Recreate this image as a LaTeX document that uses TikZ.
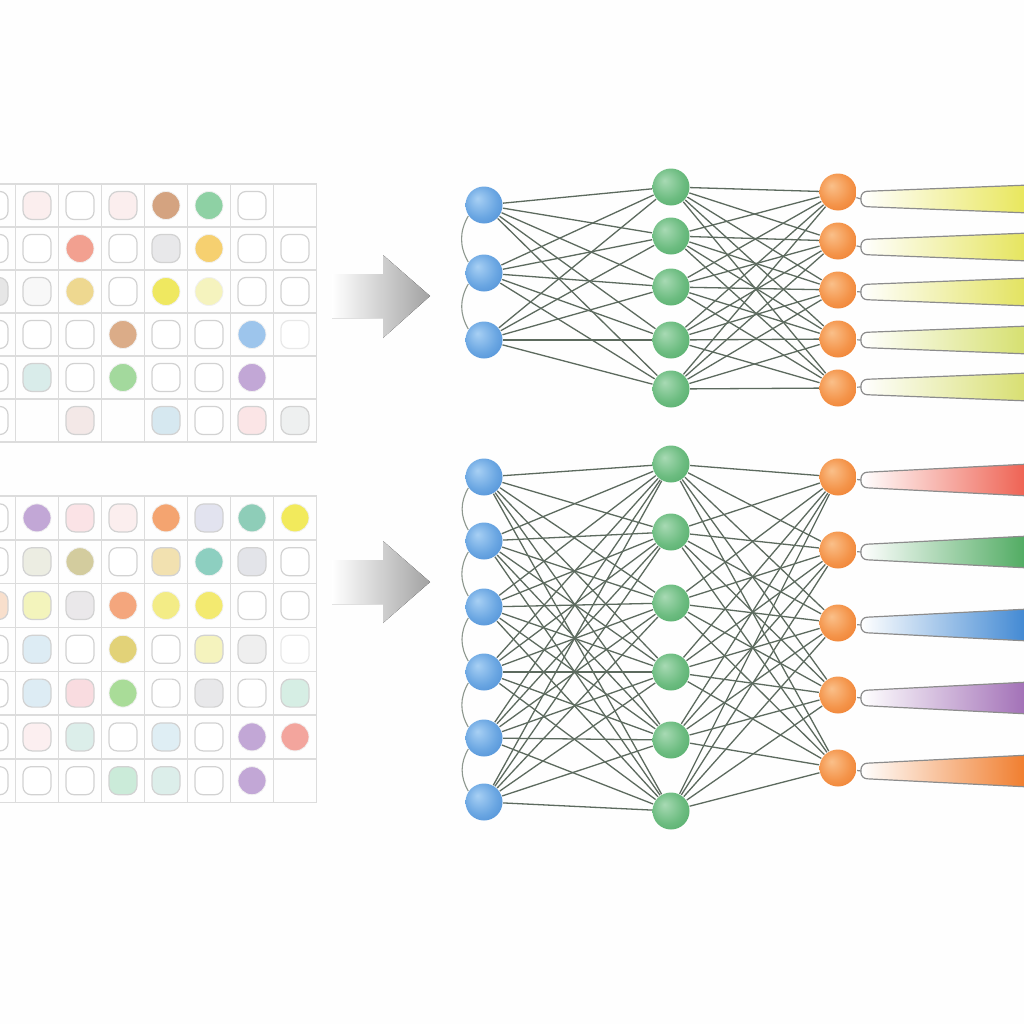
\documentclass[tikz,border=0pt]{standalone}
\usepackage{tikz, xcolor}
\newcommand{\unitsize}{0.01cm}

\definecolor{gridgray}{HTML}{DCDCDC}
\definecolor{cellline}{HTML}{D2D2D2}
\definecolor{linkgray}{HTML}{5C6A5E}
\definecolor{beamline}{HTML}{8C8C8C}
\definecolor{arrowgray}{HTML}{A2A2A2}
% cell colours
\definecolor{pinkA}{HTML}{FBEEEE}
\definecolor{pinkB}{HTML}{FBE3E6}
\definecolor{pinkC}{HTML}{F9DCE0}
\definecolor{pinkD}{HTML}{FCEFF0}
\definecolor{pinkGrey}{HTML}{F3E8E7}
\definecolor{pinkPale}{HTML}{FBE5E6}
\definecolor{greyA}{HTML}{E8E8EA}
\definecolor{greyB}{HTML}{F8F8F8}
\definecolor{greyC}{HTML}{EEF0F0}
\definecolor{greyD}{HTML}{E6E6E6}
\definecolor{greyE}{HTML}{E3E4E9}
\definecolor{greyF}{HTML}{EAE8EA}
\definecolor{greyG}{HTML}{EFEFEF}
\definecolor{tanDot}{HTML}{D4A380}
\definecolor{brownDot}{HTML}{DBAC88}
\definecolor{mintDot}{HTML}{8ED1A4}
\definecolor{salmonDot}{HTML}{F2A090}
\definecolor{salmonB}{HTML}{F3A59D}
\definecolor{goldDot}{HTML}{F6D070}
\definecolor{mustardA}{HTML}{EED890}
\definecolor{mustardDot}{HTML}{E2D278}
\definecolor{yellowDot}{HTML}{EFE860}
\definecolor{yellowB}{HTML}{F2EA5C}
\definecolor{yellowC}{HTML}{F3EC86}
\definecolor{yellowD}{HTML}{F3EA70}
\definecolor{yellowPale}{HTML}{F5F3BE}
\definecolor{yellowPaleB}{HTML}{F3F4BC}
\definecolor{blueDot}{HTML}{9DC5EC}
\definecolor{bluePale}{HTML}{D6E8F0}
\definecolor{bluePaleB}{HTML}{DDECF4}
\definecolor{bluePaleC}{HTML}{DFEEF4}
\definecolor{tealPale}{HTML}{D9ECEA}
\definecolor{tealDot}{HTML}{8ECDB8}
\definecolor{tealDotB}{HTML}{8DCFC0}
\definecolor{greenDot}{HTML}{A3D99D}
\definecolor{greenDotB}{HTML}{A9DC98}
\definecolor{purpleDot}{HTML}{C2A7D6}
\definecolor{lavender}{HTML}{E2E3EF}
\definecolor{orangeDot}{HTML}{F4A470}
\definecolor{orangeDotB}{HTML}{F4A67D}
\definecolor{beige}{HTML}{ECEDE2}
\definecolor{khaki}{HTML}{D3CC9E}
\definecolor{tanPale}{HTML}{F2E1B0}
\definecolor{peach}{HTML}{F8DFCC}
\definecolor{mintPale}{HTML}{D6EEE4}
\definecolor{mintPaleB}{HTML}{DCEEEA}
\definecolor{mintB}{HTML}{CBEBD9}
% neuron colours
\definecolor{nblueL}{HTML}{A8D0F4}
\definecolor{nblueM}{HTML}{6AA6E2}
\definecolor{nblueD}{HTML}{3E82CF}
\definecolor{ngreenL}{HTML}{A8DAB4}
\definecolor{ngreenM}{HTML}{6CBC80}
\definecolor{ngreenD}{HTML}{47A45F}
\definecolor{norangeL}{HTML}{FAC08A}
\definecolor{norangeM}{HTML}{F4944A}
\definecolor{norangeD}{HTML}{EC7220}
% beam colours
\definecolor{beamYellowA}{HTML}{E8E658}
\definecolor{beamYellowB}{HTML}{E5E45A}
\definecolor{beamYellowC}{HTML}{E2E25C}
\definecolor{beamYellowD}{HTML}{D5DF6C}
\definecolor{beamYellowE}{HTML}{D7DE6E}
\definecolor{beamRed}{HTML}{EE5E4E}
\definecolor{beamGreen}{HTML}{4CA95E}
\definecolor{beamBlue}{HTML}{3D86D2}
\definecolor{beamPurple}{HTML}{A06DB5}
\definecolor{beamOrange}{HTML}{F07A28}

\pgfdeclareradialshading{blueball}{\pgfpoint{-9bp}{9bp}}{color(0bp)=(nblueL); color(22bp)=(nblueM); color(44bp)=(nblueD); color(50bp)=(nblueD)}
\pgfdeclareradialshading{greenball}{\pgfpoint{-9bp}{9bp}}{color(0bp)=(ngreenL); color(22bp)=(ngreenM); color(44bp)=(ngreenD); color(50bp)=(ngreenD)}
\pgfdeclareradialshading{orangeball}{\pgfpoint{-9bp}{9bp}}{color(0bp)=(norangeL); color(22bp)=(norangeM); color(44bp)=(norangeD); color(50bp)=(norangeD)}

\begin{document}
\begin{tikzpicture}
\useasboundingbox (0,0) rectangle (1024*\unitsize,-1024*\unitsize);
\clip (0,0) rectangle (1024*\unitsize,-1024*\unitsize);
\fill[white!99.5!black] (0,0) rectangle (1024*\unitsize,-1024*\unitsize);
\tikzstyle{every node}=[inner sep=0pt,
			minimum size = 28*\unitsize
			]
\tikzstyle{blankcell}=[rectangle, draw=cellline, fill=white, rounded corners=8*\unitsize, line width=1.2*\unitsize]
\tikzstyle{softcell}=[rectangle, draw=cellline, rounded corners=9*\unitsize, line width=1.2*\unitsize]
\tikzstyle{dotcell}=[circle, draw=black!6, line width=0.8*\unitsize]
\tikzstyle{inneuron}=[circle, minimum size=37*\unitsize, shade, shading=blueball]
\tikzstyle{hidneuron}=[circle, minimum size=37*\unitsize, shade, shading=greenball]
\tikzstyle{outneuron}=[circle, minimum size=37*\unitsize, shade, shading=orangeball]
\tikzstyle{link}=[draw=linkgray, line width=1.3*\unitsize]
\tikzstyle{bow}=[draw=linkgray!70, line width=1.1*\unitsize]
\tikzstyle{stem}=[draw=beamline, line width=1.2*\unitsize]
\tikzstyle{beam}=[draw=beamline, line width=1.2*\unitsize, rounded corners=6*\unitsize, left color=white]
\tikzstyle{bigarrow}=[left color=white, right color=arrowgray]

% grids
\draw[xstep=43*\unitsize, ystep=43*\unitsize, gridgray, line width=1.4*\unitsize, shift={(15.5*\unitsize,-184*\unitsize)}] (-43*\unitsize,0.3*\unitsize) grid (301.3*\unitsize,-258.3*\unitsize);
\draw[xstep=43*\unitsize, ystep=43.8*\unitsize, gridgray, line width=1.4*\unitsize, shift={(15.5*\unitsize,-496*\unitsize)}] (-43*\unitsize,0.3*\unitsize) grid (301.3*\unitsize,-306.9*\unitsize);

% top grid cells
\node[blankcell] (t10) at (-6*\unitsize,-205.5*\unitsize) {};
\node[softcell, fill=pinkA] (t11) at (37*\unitsize,-205.5*\unitsize) {};
\node[blankcell] (t12) at (80*\unitsize,-205.5*\unitsize) {};
\node[softcell, fill=pinkA] (t13) at (123*\unitsize,-205.5*\unitsize) {};
\node[dotcell, fill=tanDot] (t14) at (166*\unitsize,-205.5*\unitsize) {};
\node[dotcell, fill=mintDot] (t15) at (209*\unitsize,-205.5*\unitsize) {};
\node[blankcell] (t16) at (252*\unitsize,-205.5*\unitsize) {};
\node[blankcell] (t20) at (-6*\unitsize,-248.5*\unitsize) {};
\node[blankcell] (t21) at (37*\unitsize,-248.5*\unitsize) {};
\node[dotcell, fill=salmonDot] (t22) at (80*\unitsize,-248.5*\unitsize) {};
\node[blankcell] (t23) at (123*\unitsize,-248.5*\unitsize) {};
\node[softcell, fill=greyA] (t24) at (166*\unitsize,-248.5*\unitsize) {};
\node[dotcell, fill=goldDot] (t25) at (209*\unitsize,-248.5*\unitsize) {};
\node[blankcell] (t26) at (252*\unitsize,-248.5*\unitsize) {};
\node[blankcell] (t27) at (295*\unitsize,-248.5*\unitsize) {};
\node[softcell, fill=greyD] (t30) at (-6*\unitsize,-291.5*\unitsize) {};
\node[softcell, fill=greyB] (t31) at (37*\unitsize,-291.5*\unitsize) {};
\node[dotcell, fill=mustardA] (t32) at (80*\unitsize,-291.5*\unitsize) {};
\node[blankcell] (t33) at (123*\unitsize,-291.5*\unitsize) {};
\node[dotcell, fill=yellowDot] (t34) at (166*\unitsize,-291.5*\unitsize) {};
\node[dotcell, fill=yellowPale] (t35) at (209*\unitsize,-291.5*\unitsize) {};
\node[blankcell] (t36) at (252*\unitsize,-291.5*\unitsize) {};
\node[blankcell] (t37) at (295*\unitsize,-291.5*\unitsize) {};
\node[blankcell] (t40) at (-6*\unitsize,-334.5*\unitsize) {};
\node[blankcell] (t41) at (37*\unitsize,-334.5*\unitsize) {};
\node[blankcell] (t42) at (80*\unitsize,-334.5*\unitsize) {};
\node[dotcell, fill=brownDot] (t43) at (123*\unitsize,-334.5*\unitsize) {};
\node[blankcell] (t44) at (166*\unitsize,-334.5*\unitsize) {};
\node[blankcell] (t45) at (209*\unitsize,-334.5*\unitsize) {};
\node[dotcell, fill=blueDot] (t46) at (252*\unitsize,-334.5*\unitsize) {};
\node[blankcell, draw=cellline!50] (t47) at (295*\unitsize,-334.5*\unitsize) {};
\node[blankcell] (t50) at (-6*\unitsize,-377.5*\unitsize) {};
\node[softcell, fill=tealPale] (t51) at (37*\unitsize,-377.5*\unitsize) {};
\node[blankcell] (t52) at (80*\unitsize,-377.5*\unitsize) {};
\node[dotcell, fill=greenDot] (t53) at (123*\unitsize,-377.5*\unitsize) {};
\node[blankcell] (t54) at (166*\unitsize,-377.5*\unitsize) {};
\node[blankcell] (t55) at (209*\unitsize,-377.5*\unitsize) {};
\node[dotcell, fill=purpleDot] (t56) at (252*\unitsize,-377.5*\unitsize) {};
\node[blankcell] (t60) at (-6*\unitsize,-420.5*\unitsize) {};
\node[softcell, fill=pinkGrey] (t62) at (80*\unitsize,-420.5*\unitsize) {};
\node[softcell, fill=bluePale] (t64) at (166*\unitsize,-420.5*\unitsize) {};
\node[blankcell] (t65) at (209*\unitsize,-420.5*\unitsize) {};
\node[softcell, fill=pinkPale] (t66) at (252*\unitsize,-420.5*\unitsize) {};
\node[softcell, fill=greyC] (t67) at (295*\unitsize,-420.5*\unitsize) {};

% bottom grid cells
\node[blankcell] (b10) at (-6*\unitsize,-517.9*\unitsize) {};
\node[dotcell, fill=purpleDot] (b11) at (37*\unitsize,-517.9*\unitsize) {};
\node[softcell, fill=pinkB] (b12) at (80*\unitsize,-517.9*\unitsize) {};
\node[softcell, fill=pinkA] (b13) at (123*\unitsize,-517.9*\unitsize) {};
\node[dotcell, fill=orangeDot] (b14) at (166*\unitsize,-517.9*\unitsize) {};
\node[softcell, fill=lavender] (b15) at (209*\unitsize,-517.9*\unitsize) {};
\node[dotcell, fill=tealDot] (b16) at (252*\unitsize,-517.9*\unitsize) {};
\node[dotcell, fill=yellowB] (b17) at (295*\unitsize,-517.9*\unitsize) {};
\node[blankcell] (b20) at (-6*\unitsize,-561.7*\unitsize) {};
\node[softcell, fill=beige] (b21) at (37*\unitsize,-561.7*\unitsize) {};
\node[dotcell, fill=khaki] (b22) at (80*\unitsize,-561.7*\unitsize) {};
\node[blankcell] (b23) at (123*\unitsize,-561.7*\unitsize) {};
\node[softcell, fill=tanPale] (b24) at (166*\unitsize,-561.7*\unitsize) {};
\node[dotcell, fill=tealDotB] (b25) at (209*\unitsize,-561.7*\unitsize) {};
\node[softcell, fill=greyE] (b26) at (252*\unitsize,-561.7*\unitsize) {};
\node[blankcell] (b27) at (295*\unitsize,-561.7*\unitsize) {};
\node[softcell, fill=peach] (b30) at (-6*\unitsize,-605.5*\unitsize) {};
\node[softcell, fill=yellowPaleB] (b31) at (37*\unitsize,-605.5*\unitsize) {};
\node[softcell, fill=greyF] (b32) at (80*\unitsize,-605.5*\unitsize) {};
\node[dotcell, fill=orangeDotB] (b33) at (123*\unitsize,-605.5*\unitsize) {};
\node[dotcell, fill=yellowC] (b34) at (166*\unitsize,-605.5*\unitsize) {};
\node[dotcell, fill=yellowD] (b35) at (209*\unitsize,-605.5*\unitsize) {};
\node[blankcell] (b36) at (252*\unitsize,-605.5*\unitsize) {};
\node[blankcell] (b37) at (295*\unitsize,-605.5*\unitsize) {};
\node[blankcell] (b40) at (-6*\unitsize,-649.3*\unitsize) {};
\node[softcell, fill=bluePaleB] (b41) at (37*\unitsize,-649.3*\unitsize) {};
\node[blankcell] (b42) at (80*\unitsize,-649.3*\unitsize) {};
\node[dotcell, fill=mustardDot] (b43) at (123*\unitsize,-649.3*\unitsize) {};
\node[blankcell] (b44) at (166*\unitsize,-649.3*\unitsize) {};
\node[softcell, fill=yellowPale] (b45) at (209*\unitsize,-649.3*\unitsize) {};
\node[softcell, fill=greyG] (b46) at (252*\unitsize,-649.3*\unitsize) {};
\node[blankcell, draw=cellline!50] (b47) at (295*\unitsize,-649.3*\unitsize) {};
\node[blankcell] (b50) at (-6*\unitsize,-693.1*\unitsize) {};
\node[softcell, fill=bluePaleB] (b51) at (37*\unitsize,-693.1*\unitsize) {};
\node[softcell, fill=pinkC] (b52) at (80*\unitsize,-693.1*\unitsize) {};
\node[dotcell, fill=greenDotB] (b53) at (123*\unitsize,-693.1*\unitsize) {};
\node[blankcell] (b54) at (166*\unitsize,-693.1*\unitsize) {};
\node[softcell, fill=greyA] (b55) at (209*\unitsize,-693.1*\unitsize) {};
\node[blankcell] (b56) at (252*\unitsize,-693.1*\unitsize) {};
\node[softcell, fill=mintPale] (b57) at (295*\unitsize,-693.1*\unitsize) {};
\node[blankcell] (b60) at (-6*\unitsize,-736.9*\unitsize) {};
\node[softcell, fill=pinkD] (b61) at (37*\unitsize,-736.9*\unitsize) {};
\node[softcell, fill=mintPaleB] (b62) at (80*\unitsize,-736.9*\unitsize) {};
\node[blankcell] (b63) at (123*\unitsize,-736.9*\unitsize) {};
\node[softcell, fill=bluePaleC] (b64) at (166*\unitsize,-736.9*\unitsize) {};
\node[blankcell] (b65) at (209*\unitsize,-736.9*\unitsize) {};
\node[dotcell, fill=purpleDot] (b66) at (252*\unitsize,-736.9*\unitsize) {};
\node[dotcell, fill=salmonB] (b67) at (295*\unitsize,-736.9*\unitsize) {};
\node[blankcell] (b70) at (-6*\unitsize,-780.7*\unitsize) {};
\node[blankcell] (b71) at (37*\unitsize,-780.7*\unitsize) {};
\node[blankcell] (b72) at (80*\unitsize,-780.7*\unitsize) {};
\node[softcell, fill=mintB] (b73) at (123*\unitsize,-780.7*\unitsize) {};
\node[softcell, fill=mintPaleB] (b74) at (166*\unitsize,-780.7*\unitsize) {};
\node[blankcell] (b75) at (209*\unitsize,-780.7*\unitsize) {};
\node[dotcell, fill=purpleDot] (b76) at (252*\unitsize,-780.7*\unitsize) {};

% arrows
\fill[bigarrow] (332*\unitsize,-274*\unitsize) -- (383*\unitsize,-274*\unitsize) -- (383*\unitsize,-255*\unitsize) -- (430*\unitsize,-296*\unitsize) -- (383*\unitsize,-338*\unitsize) -- (383*\unitsize,-318*\unitsize) -- (332*\unitsize,-318*\unitsize) -- cycle;
\fill[bigarrow] (332*\unitsize,-560*\unitsize) -- (383*\unitsize,-560*\unitsize) -- (383*\unitsize,-541*\unitsize) -- (430*\unitsize,-582*\unitsize) -- (383*\unitsize,-623*\unitsize) -- (383*\unitsize,-604*\unitsize) -- (332*\unitsize,-604*\unitsize) -- cycle;

% top network
\node[inneuron] (tin1) at (484*\unitsize,-205*\unitsize) {};
\node[inneuron] (tin2) at (484*\unitsize,-273*\unitsize) {};
\node[inneuron] (tin3) at (484*\unitsize,-340*\unitsize) {};
\node[hidneuron] (thid1) at (671*\unitsize,-187*\unitsize) {};
\node[hidneuron] (thid2) at (671*\unitsize,-236*\unitsize) {};
\node[hidneuron] (thid3) at (671*\unitsize,-287*\unitsize) {};
\node[hidneuron] (thid4) at (671*\unitsize,-340*\unitsize) {};
\node[hidneuron] (thid5) at (671*\unitsize,-389*\unitsize) {};
\node[outneuron] (tout1) at (838*\unitsize,-192*\unitsize) {};
\node[outneuron] (tout2) at (838*\unitsize,-241*\unitsize) {};
\node[outneuron] (tout3) at (838*\unitsize,-290*\unitsize) {};
\node[outneuron] (tout4) at (838*\unitsize,-339*\unitsize) {};
\node[outneuron] (tout5) at (838*\unitsize,-388*\unitsize) {};

\draw[link] (tin1) -- (thid1);
\draw[link] (tin1) -- (thid2);
\draw[link] (tin1) -- (thid3);
\draw[link] (tin1) -- (thid4);
\draw[link] (tin1) -- (thid5);
\draw[link] (tin2) -- (thid1);
\draw[link] (tin2) -- (thid2);
\draw[link] (tin2) -- (thid3);
\draw[link] (tin2) -- (thid4);
\draw[link] (tin2) -- (thid5);
\draw[link] (tin3) -- (thid1);
\draw[link] (tin3) -- (thid2);
\draw[link] (tin3) -- (thid3);
\draw[link] (tin3) -- (thid4);
\draw[link] (tin3) -- (thid5);
\draw[link] (thid1) -- (tout1);
\draw[link] (thid1) -- (tout2);
\draw[link] (thid1) -- (tout3);
\draw[link] (thid1) -- (tout4);
\draw[link] (thid1) -- (tout5);
\draw[link] (thid2) -- (tout1);
\draw[link] (thid2) -- (tout2);
\draw[link] (thid2) -- (tout3);
\draw[link] (thid2) -- (tout4);
\draw[link] (thid2) -- (tout5);
\draw[link] (thid3) -- (tout1);
\draw[link] (thid3) -- (tout2);
\draw[link] (thid3) -- (tout3);
\draw[link] (thid3) -- (tout4);
\draw[link] (thid3) -- (tout5);
\draw[link] (thid4) -- (tout1);
\draw[link] (thid4) -- (tout2);
\draw[link] (thid4) -- (tout3);
\draw[link] (thid4) -- (tout4);
\draw[link] (thid4) -- (tout5);
\draw[link] (thid5) -- (tout1);
\draw[link] (thid5) -- (tout2);
\draw[link] (thid5) -- (tout3);
\draw[link] (thid5) -- (tout4);
\draw[link] (thid5) -- (tout5);
\draw[bow] (tin1.215) to[bend right=30] (tin2.145);
\draw[bow] (tin2.215) to[bend right=30] (tin3.145);

% top beams
\coordinate (ts1) at (861*\unitsize,-199*\unitsize);
\coordinate (ts2) at (861*\unitsize,-247*\unitsize);
\coordinate (ts3) at (861*\unitsize,-292*\unitsize);
\coordinate (ts4) at (861*\unitsize,-340*\unitsize);
\coordinate (ts5) at (861*\unitsize,-387*\unitsize);
\draw[stem] (tout1) -- (ts1);
\draw[stem] (tout2) -- (ts2);
\draw[stem] (tout3) -- (ts3);
\draw[stem] (tout4) -- (ts4);
\draw[stem] (tout5) -- (ts5);
\draw[beam, right color=beamYellowA] (1030*\unitsize,-185*\unitsize) -- (861*\unitsize,-191.5*\unitsize) -- (861*\unitsize,-206.5*\unitsize) -- (1030*\unitsize,-213*\unitsize);
\draw[beam, right color=beamYellowB] (1030*\unitsize,-233*\unitsize) -- (861*\unitsize,-239.5*\unitsize) -- (861*\unitsize,-254.5*\unitsize) -- (1030*\unitsize,-261*\unitsize);
\draw[beam, right color=beamYellowC] (1030*\unitsize,-278*\unitsize) -- (861*\unitsize,-284.5*\unitsize) -- (861*\unitsize,-299.5*\unitsize) -- (1030*\unitsize,-306*\unitsize);
\draw[beam, right color=beamYellowD] (1030*\unitsize,-326*\unitsize) -- (861*\unitsize,-332.5*\unitsize) -- (861*\unitsize,-347.5*\unitsize) -- (1030*\unitsize,-354*\unitsize);
\draw[beam, right color=beamYellowE] (1030*\unitsize,-373*\unitsize) -- (861*\unitsize,-379.5*\unitsize) -- (861*\unitsize,-394.5*\unitsize) -- (1030*\unitsize,-401*\unitsize);

% bottom network
\node[inneuron] (bin1) at (484*\unitsize,-477*\unitsize) {};
\node[inneuron] (bin2) at (484*\unitsize,-541*\unitsize) {};
\node[inneuron] (bin3) at (484*\unitsize,-607*\unitsize) {};
\node[inneuron] (bin4) at (484*\unitsize,-672*\unitsize) {};
\node[inneuron] (bin5) at (484*\unitsize,-738*\unitsize) {};
\node[inneuron] (bin6) at (484*\unitsize,-802*\unitsize) {};
\node[hidneuron] (bhid1) at (671*\unitsize,-464*\unitsize) {};
\node[hidneuron] (bhid2) at (671*\unitsize,-532*\unitsize) {};
\node[hidneuron] (bhid3) at (671*\unitsize,-603*\unitsize) {};
\node[hidneuron] (bhid4) at (671*\unitsize,-672*\unitsize) {};
\node[hidneuron] (bhid5) at (671*\unitsize,-740*\unitsize) {};
\node[hidneuron] (bhid6) at (671*\unitsize,-811*\unitsize) {};
\node[outneuron] (bout1) at (838*\unitsize,-477*\unitsize) {};
\node[outneuron] (bout2) at (838*\unitsize,-550*\unitsize) {};
\node[outneuron] (bout3) at (838*\unitsize,-623*\unitsize) {};
\node[outneuron] (bout4) at (838*\unitsize,-695*\unitsize) {};
\node[outneuron] (bout5) at (838*\unitsize,-768*\unitsize) {};

\draw[link] (bin1) -- (bhid1);
\draw[link] (bin1) -- (bhid2);
\draw[link] (bin1) -- (bhid3);
\draw[link] (bin1) -- (bhid4);
\draw[link] (bin1) -- (bhid5);
\draw[link] (bin1) -- (bhid6);
\draw[link] (bin2) -- (bhid1);
\draw[link] (bin2) -- (bhid2);
\draw[link] (bin2) -- (bhid3);
\draw[link] (bin2) -- (bhid4);
\draw[link] (bin2) -- (bhid5);
\draw[link] (bin2) -- (bhid6);
\draw[link] (bin3) -- (bhid1);
\draw[link] (bin3) -- (bhid2);
\draw[link] (bin3) -- (bhid3);
\draw[link] (bin3) -- (bhid4);
\draw[link] (bin3) -- (bhid5);
\draw[link] (bin3) -- (bhid6);
\draw[link] (bin4) -- (bhid1);
\draw[link] (bin4) -- (bhid2);
\draw[link] (bin4) -- (bhid3);
\draw[link] (bin4) -- (bhid4);
\draw[link] (bin4) -- (bhid5);
\draw[link] (bin4) -- (bhid6);
\draw[link] (bin5) -- (bhid1);
\draw[link] (bin5) -- (bhid2);
\draw[link] (bin5) -- (bhid3);
\draw[link] (bin5) -- (bhid4);
\draw[link] (bin5) -- (bhid5);
\draw[link] (bin5) -- (bhid6);
\draw[link] (bin6) -- (bhid1);
\draw[link] (bin6) -- (bhid2);
\draw[link] (bin6) -- (bhid3);
\draw[link] (bin6) -- (bhid4);
\draw[link] (bin6) -- (bhid5);
\draw[link] (bin6) -- (bhid6);
\draw[link] (bhid1) -- (bout1);
\draw[link] (bhid1) -- (bout2);
\draw[link] (bhid1) -- (bout3);
\draw[link] (bhid1) -- (bout4);
\draw[link] (bhid1) -- (bout5);
\draw[link] (bhid2) -- (bout1);
\draw[link] (bhid2) -- (bout2);
\draw[link] (bhid2) -- (bout3);
\draw[link] (bhid2) -- (bout4);
\draw[link] (bhid2) -- (bout5);
\draw[link] (bhid3) -- (bout1);
\draw[link] (bhid3) -- (bout2);
\draw[link] (bhid3) -- (bout3);
\draw[link] (bhid3) -- (bout4);
\draw[link] (bhid3) -- (bout5);
\draw[link] (bhid4) -- (bout1);
\draw[link] (bhid4) -- (bout2);
\draw[link] (bhid4) -- (bout3);
\draw[link] (bhid4) -- (bout4);
\draw[link] (bhid4) -- (bout5);
\draw[link] (bhid5) -- (bout1);
\draw[link] (bhid5) -- (bout2);
\draw[link] (bhid5) -- (bout3);
\draw[link] (bhid5) -- (bout4);
\draw[link] (bhid5) -- (bout5);
\draw[link] (bhid6) -- (bout1);
\draw[link] (bhid6) -- (bout2);
\draw[link] (bhid6) -- (bout3);
\draw[link] (bhid6) -- (bout4);
\draw[link] (bhid6) -- (bout5);
\draw[bow] (bin1.215) to[bend right=30] (bin2.145);
\draw[bow] (bin2.215) to[bend right=30] (bin3.145);
\draw[bow] (bin3.215) to[bend right=30] (bin4.145);
\draw[bow] (bin4.215) to[bend right=30] (bin5.145);
\draw[bow] (bin5.215) to[bend right=30] (bin6.145);

% bottom beams
\coordinate (bs1) at (861*\unitsize,-480*\unitsize);
\coordinate (bs2) at (861*\unitsize,-552*\unitsize);
\coordinate (bs3) at (861*\unitsize,-625*\unitsize);
\coordinate (bs4) at (861*\unitsize,-698*\unitsize);
\coordinate (bs5) at (861*\unitsize,-771*\unitsize);
\draw[stem] (bout1) -- (bs1);
\draw[stem] (bout2) -- (bs2);
\draw[stem] (bout3) -- (bs3);
\draw[stem] (bout4) -- (bs4);
\draw[stem] (bout5) -- (bs5);
\draw[beam, right color=beamRed] (1030*\unitsize,-464*\unitsize) -- (861*\unitsize,-472.5*\unitsize) -- (861*\unitsize,-487.5*\unitsize) -- (1030*\unitsize,-496*\unitsize);
\draw[beam, right color=beamGreen] (1030*\unitsize,-536*\unitsize) -- (861*\unitsize,-544.5*\unitsize) -- (861*\unitsize,-559.5*\unitsize) -- (1030*\unitsize,-568*\unitsize);
\draw[beam, right color=beamBlue] (1030*\unitsize,-609*\unitsize) -- (861*\unitsize,-617.5*\unitsize) -- (861*\unitsize,-632.5*\unitsize) -- (1030*\unitsize,-641*\unitsize);
\draw[beam, right color=beamPurple] (1030*\unitsize,-682*\unitsize) -- (861*\unitsize,-690.5*\unitsize) -- (861*\unitsize,-705.5*\unitsize) -- (1030*\unitsize,-714*\unitsize);
\draw[beam, right color=beamOrange] (1030*\unitsize,-755*\unitsize) -- (861*\unitsize,-763.5*\unitsize) -- (861*\unitsize,-778.5*\unitsize) -- (1030*\unitsize,-787*\unitsize);

\end{tikzpicture}
\end{document}
